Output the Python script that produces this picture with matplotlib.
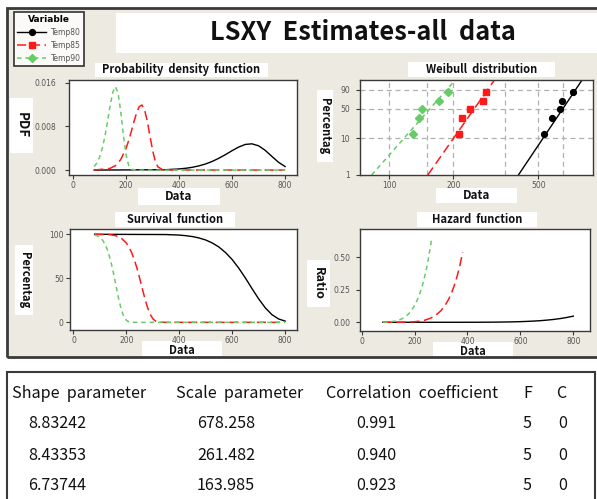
import numpy as np
import matplotlib
matplotlib.use('Agg')
import matplotlib.pyplot as plt
from matplotlib.patches import Rectangle
from matplotlib.lines import Line2D

# ---------------- data ----------------
series = ['Temp80', 'Temp85', 'Temp90']

# Probability density / survival curves
x80 = [80, 350, 400, 425, 450, 475, 500, 525, 550, 575, 600, 625, 650, 675, 700, 725, 750, 775, 800]
pdf80 = [0.0, 0.00007, 0.00021, 0.00033, 0.00051, 0.00077, 0.00112, 0.00158, 0.00216, 0.00283,
         0.00355, 0.00422, 0.00470, 0.00481, 0.00445, 0.00362, 0.00252, 0.00144, 0.00065]
surv80 = [100, 99.7, 99.1, 98.4, 97.4, 95.8, 93.5, 90.1, 85.5, 79.2, 71.3, 61.5, 50.3, 38.3,
          26.7, 16.5, 8.8, 3.9, 1.4]
haz80 = [0.0, 0.0001, 0.0002, 0.0003, 0.0005, 0.0008, 0.0012, 0.0018, 0.0025, 0.0036, 0.0050,
         0.0069, 0.0093, 0.0125, 0.0167, 0.0219, 0.0286, 0.0370, 0.0475]

x85 = [80, 140, 160, 180, 200, 210, 220, 230, 240, 250, 260, 270, 280, 290, 300, 310, 320, 340, 800]
pdf85 = [0.0, 0.00031, 0.00082, 0.00192, 0.00396, 0.00540, 0.00707, 0.00886, 0.01049, 0.01164,
         0.01192, 0.01104, 0.00904, 0.00635, 0.00371, 0.00171, 0.00060, 0.00002, 0.0]
surv85 = [100, 99.5, 98.4, 95.8, 90.1, 85.4, 79.2, 71.3, 61.6, 50.4, 38.6, 27.0, 16.9, 9.1, 4.1,
          1.5, 0.4, 0.0, 0.0]
x85h = [80, 140, 160, 180, 200, 220, 240, 260, 280, 300, 320, 330, 340, 350, 360, 370, 382]
haz85 = [0.0, 0.0003, 0.0008, 0.0020, 0.0044, 0.0089, 0.0170, 0.0309, 0.0536, 0.0895, 0.1446,
         0.1819, 0.2270, 0.2816, 0.3473, 0.4257, 0.5395]

x90 = [80, 90, 100, 110, 120, 130, 140, 150, 160, 170, 180, 190, 200, 210, 220, 240, 800]
pdf90 = [0.00066, 0.00129, 0.00232, 0.00388, 0.00606, 0.00879, 0.01174, 0.01423, 0.01529,
         0.01412, 0.01077, 0.00645, 0.00285, 0.00086, 0.00016, 0.0, 0.0]
surv90 = [99.2, 98.3, 96.5, 93.4, 88.5, 81.1, 70.9, 57.8, 42.9, 28.0, 15.4, 6.8, 2.2, 0.5, 0.1,
          0.0, 0.0]
x90h = [80, 100, 120, 140, 150, 160, 170, 180, 190, 200, 210, 220, 230, 240, 250, 265]
haz90 = [0.0007, 0.0024, 0.0068, 0.0166, 0.0246, 0.0357, 0.0505, 0.0701, 0.0956, 0.1283, 0.1697,
         0.2216, 0.2860, 0.3651, 0.4614, 0.6447]

# Weibull probability plot
wb_p = [12.96, 31.48, 50.0, 68.52, 87.04]
wb80_x = [533, 581, 632, 648, 729]
wb85_x = [213, 219, 240, 275, 284]
wb90_x = [129, 138, 142, 172, 189]
fit_p = [1.0, 99.9]
fit80_x = [403, 844]
fit85_x = [151.6, 328.8]
fit90_x = [82.8, 218.5]

# Table
table_header = ['Shape  parameter', 'Scale  parameter', 'Correlation  coefficient', 'F', 'C']
shape_par = ['8.83242', '8.43353', '6.73744']
scale_par = ['678.258', '261.482', '163.985']
corr_coef = ['0.991', '0.940', '0.923']
f_col = ['5', '5', '5']
c_col = ['0', '0', '0']

# ---------------- figure ----------------
W, H = 597, 499
fig = plt.figure(figsize=(W / 100, H / 100), dpi=100)
fig.patch.set_facecolor('white')

FONT = ['Noto Sans CJK KR', 'DejaVu Sans']
BG = '#EDEAE1'
EDGE = '#3a3a3a'


def rect(x0, y0, x1, y1):
    return [x0 / W, 1 - y1 / H, (x1 - x0) / W, (y1 - y0) / H]


def frect(x0, y0, x1, y1, **kw):
    r = Rectangle((x0 / W, 1 - y1 / H), (x1 - x0) / W, (y1 - y0) / H,
                  transform=fig.transFigure, **kw)
    fig.patches.append(r)
    return r


# top panel background and border
frect(7, 8, 610, 357, facecolor=BG, edgecolor='none', zorder=-5)
frect(7, 8, 610, 357, facecolor='none', edgecolor=EDGE, lw=2, zorder=10)
# table frame
frect(7, 372, 595, 520, facecolor='white', edgecolor=EDGE, lw=1.5, zorder=-5)


def wbox(x0, y0, x1, y1, text, size, rot=0, dy=0):
    frect(x0, y0, x1, y1, facecolor='white', edgecolor='none', zorder=-1)
    fig.text((x0 + x1) / 2 / W, 1 - ((y0 + y1) / 2 + dy) / H, text, ha='center', va='center',
             rotation=rot, fontsize=size, fontweight='bold', family=FONT, color='#111111')


# main title
wbox(116, 13, 610, 53, 'LSXY  Estimates-all  data', 18.3, dy=-1)

# subplot titles
wbox(95, 63, 268, 77, 'Probability  density  function', 8)
wbox(408, 62, 555, 77, 'Weibull  distribution', 8)
wbox(115, 212, 235, 227, 'Survival  function', 8)
wbox(417, 212, 537, 227, 'Hazard  function', 8)

# axis label boxes
wbox(138, 188, 220, 205, 'Data', 8.5)
wbox(436, 188, 517, 203, 'Data', 8.5)
wbox(142, 341, 222, 356, 'Data', 8, dy=2.5)
wbox(433, 342, 513, 356, 'Data', 8, dy=2.5)
wbox(10, 98, 33, 153, 'PDF', 9.5, rot=270)
wbox(317, 90, 333, 162, 'Percentag', 8, rot=270)
wbox(15, 245, 33, 315, 'Percentag', 8, rot=270)
wbox(307, 260, 330, 307, 'Ratio', 9, rot=270)

styles = {
    'Temp80': dict(color='black', lw=1.0, ls='-'),
    'Temp85': dict(color='#FF1A1A', lw=1.1, dashes=(6, 3)),
    'Temp90': dict(color='#66CC66', lw=1.1, dashes=(3, 2.5)),
}
markers = {
    'Temp80': dict(marker='o', ms=4.2, color='black'),
    'Temp85': dict(marker='s', ms=4.2, color='#FF1A1A'),
    'Temp90': dict(marker='D', ms=4.0, color='#66CC66'),
}


def style(ax, ypad=2):
    ax.set_facecolor('white')
    for s in ax.spines.values():
        s.set_color(EDGE)
        s.set_linewidth(1.0)
    ax.tick_params(direction='out', length=3, width=0.8, color=EDGE, labelsize=5.5,
                   labelcolor='#555555', pad=1.2)
    ax.tick_params(axis='y', pad=ypad)


# ---- PDF ----
ax1 = fig.add_axes(rect(69, 80, 297, 175))
style(ax1, ypad=6)
ax1.plot(x80, pdf80, **styles['Temp80'])
ax1.plot(x85, pdf85, **styles['Temp85'])
ax1.plot(x90, pdf90, **styles['Temp90'])
ax1.set_xlim(-15, 845)
ax1.set_ylim(-0.0009, 0.0165)
ax1.set_xticks([0, 200, 400, 600, 800])
ax1.set_yticks([0.0, 0.008, 0.016])
ax1.set_yticklabels(['0.000', '0.008', '0.016'])

# ---- Weibull ----
def fwd(p):
    p = np.clip(np.asarray(p, dtype=float), 1e-9, 100 - 1e-9)
    return np.log(-np.log(1 - p / 100.0))


def inv(y):
    return 100.0 * (1 - np.exp(-np.exp(y)))


ax2 = fig.add_axes(rect(360, 80, 593, 175))
style(ax2, ypad=4)
ax2.set_xscale('log')
ax2.set_yscale('function', functions=(fwd, inv))
for xs, name in [(fit80_x, 'Temp80'), (fit85_x, 'Temp85'), (fit90_x, 'Temp90')]:
    ax2.plot(xs, fit_p, **styles[name])
for xs, name in [(wb80_x, 'Temp80'), (wb85_x, 'Temp85'), (wb90_x, 'Temp90')]:
    ax2.plot(xs, wb_p, ls='none', **markers[name])
ax2.set_xlim(73, 901)
ax2.set_ylim(1, 98.7)
ax2.set_xticks([100, 200, 500])
ax2.set_xticklabels(['100', '200', '500'])
ax2.xaxis.set_minor_locator(matplotlib.ticker.NullLocator())
ax2.set_yticks([1, 10, 50, 90])
ax2.set_yticklabels(['1', '10', '50', '90'])
ax2.yaxis.set_minor_locator(matplotlib.ticker.NullLocator())
for gx in [100, 150, 200, 350, 500, 650]:
    ax2.axvline(gx, color='#B0B0B0', lw=0.9, dashes=(4, 3), zorder=0)
for gy in [10, 50, 90]:
    ax2.axhline(gy, color='#B0B0B0', lw=0.9, dashes=(4, 3), zorder=0)

# ---- Survival ----
ax3 = fig.add_axes(rect(70, 229, 297, 330))
style(ax3, ypad=1.5)
ax3.plot(x80, surv80, **styles['Temp80'])
ax3.plot(x85, surv85, **styles['Temp85'])
ax3.plot(x90, surv90, **styles['Temp90'])
ax3.set_xlim(-13, 845)
ax3.set_ylim(-8.7, 106)
ax3.set_xticks([0, 200, 400, 600, 800])
ax3.set_yticks([0, 50, 100])

# ---- Hazard ----
ax4 = fig.add_axes(rect(360, 229, 590, 331))
style(ax4, ypad=4)
ax4.plot(x80, haz80, **styles['Temp80'])
ax4.plot(x85h, haz85, **styles['Temp85'])
ax4.plot(x90h, haz90, **styles['Temp90'])
ax4.set_xlim(-6, 863)
ax4.set_ylim(-0.067, 0.718)
ax4.set_xticks([0, 200, 400, 600, 800])
ax4.set_yticks([0.0, 0.25, 0.5])
ax4.set_yticklabels(['0.00', '0.25', '0.50'])

# ---- Legend ----
handles = []
for name in series:
    st = dict(styles[name])
    mk = markers[name]
    handles.append(Line2D([], [], marker=mk['marker'], ms=mk['ms'], mfc=mk['color'],
                          mec=mk['color'], **st))
leg = fig.legend(handles, series, loc='upper left', bbox_to_anchor=(14 / W, 1 - 12 / H),
                 title='Variable', fontsize=5.5, title_fontsize=6.5, frameon=True,
                 fancybox=False, edgecolor='black', handlelength=3.8, handletextpad=0.7,
                 borderpad=0.4, labelspacing=0.5, borderaxespad=0)
leg.get_title().set_fontweight('bold')
leg.get_frame().set_linewidth(1.2)
for t in leg.get_texts():
    t.set_color('#555555')

# ---- Table ----
hx = [12, 176, 326, 523, 556]
vx = [28, 197, 356, 523, 558]
hy = 393
rows_y = [424, 455, 486]
for x, t in zip(hx, table_header):
    fig.text(x / W, 1 - hy / H, t, ha='left', va='center', fontsize=11.6, family=FONT,
             color='#111111')
cols = [shape_par, scale_par, corr_coef, f_col, c_col]
for ci, col in enumerate(cols):
    for ri, v in enumerate(col):
        fig.text(vx[ci] / W, 1 - rows_y[ri] / H, v, ha='left', va='center', fontsize=11.6,
                 family=FONT, color='#111111')

fig.savefig('out.png', dpi=100)
